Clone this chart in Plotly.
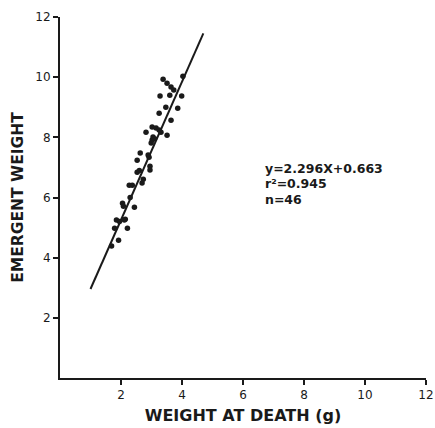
import plotly.graph_objects as go

# Data
weight_at_death = [3.38, 3.51, 3.64, 4.03, 3.28, 3.60, 3.99, 3.86, 3.47, 3.25,
                   3.64, 3.02, 3.15, 2.82, 3.25, 3.51, 3.05, 3.02, 2.63, 2.53,
                   2.89, 2.95, 2.95, 2.53, 2.73, 2.69, 2.27, 2.05, 2.08, 2.44,
                   1.85, 2.14, 1.79, 2.21, 1.92, 1.69, 2.99, 3.31, 2.37, 2.11,
                   2.92, 3.73, 3.10, 2.60, 2.30, 1.95]
emergent_weight = [9.93, 9.80, 9.67, 10.03, 9.37, 9.40, 9.37, 8.97, 9.00, 8.80,
                   8.57, 8.34, 8.31, 8.17, 8.24, 8.07, 8.01, 7.91, 7.48, 7.24,
                   7.41, 7.04, 6.91, 6.84, 6.61, 6.48, 6.41, 5.81, 5.71, 5.68,
                   5.25, 5.28, 4.98, 4.98, 4.58, 4.39, 7.81, 8.17, 6.41, 5.25,
                   7.34, 9.57, 7.95, 6.90, 6.00, 5.20]
slope = 2.296
intercept = 0.663
fit_x = [1.0, 4.7]
fit_y = [slope * v + intercept for v in fit_x]
tick_vals = [2, 4, 6, 8, 10, 12]
tick_text = ["2", "4", "6", "8", "10", "12"]
stats_lines = ["y=2.296X+0.663", "r²=0.945", "n=46"]
stats_y = [6.95, 6.45, 5.95]

font_family = "DejaVu Sans, sans-serif"
ink = "#1a1a1a"

fig = go.Figure()
fig.add_trace(go.Scatter(x=fit_x, y=fit_y, mode="lines",
                         line=dict(color=ink, width=2), showlegend=False))
fig.add_trace(go.Scatter(x=weight_at_death, y=emergent_weight, mode="markers",
                         marker=dict(color=ink, size=5.5), showlegend=False))

for txt, yy in zip(stats_lines, stats_y):
    fig.add_annotation(x=6.7, y=yy, xref="x", yref="y", xanchor="left", yanchor="middle",
                       showarrow=False, align="left", text=f"<b>{txt}</b>",
                       borderpad=0,
                       font=dict(family=font_family, size=12.5, color=ink))

axis_common = dict(showgrid=False, zeroline=False, showline=True, linecolor=ink,
                   linewidth=2, ticks="outside", ticklen=5, tickwidth=1.5,
                   tickcolor=ink, tickvals=tick_vals, ticktext=tick_text,
                   ticklabeloverflow="allow", automargin=False,
                   tickfont=dict(family=font_family, size=12, color=ink))

fig.update_xaxes(range=[0, 12], **axis_common,
                 title=dict(text="<b>WEIGHT AT DEATH (g)</b>", standoff=8,
                            font=dict(family=font_family, size=16, color=ink)))
fig.update_yaxes(range=[0, 12], **axis_common,
                 title=dict(text="<b>EMERGENT WEIGHT</b>", standoff=8,
                            font=dict(family=font_family, size=15.5, color=ink)))

fig.update_layout(width=435, height=428, plot_bgcolor="white", paper_bgcolor="white",
                  margin=dict(l=60, r=9, t=17, b=50, autoexpand=False))

fig.write_html("out.html")
